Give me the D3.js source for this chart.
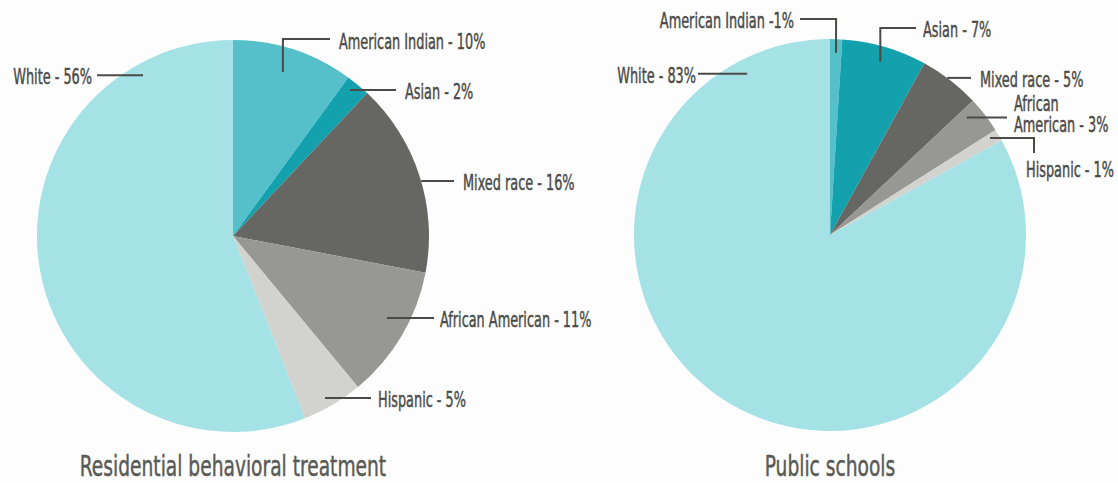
<!DOCTYPE html>
<html>
<head>
<meta charset="utf-8">
<script src="https://cdn.jsdelivr.net/npm/d3@7"></script>
<style>
  html, body { margin: 0; padding: 0; background: #fdfdfd; }
  svg { display: block; }
  text { font-family: "DejaVu Sans Condensed", "Liberation Sans Narrow", "Liberation Sans", sans-serif; fill: #4a4a46; stroke: #4a4a46; stroke-width: 0.45; }
</style>
</head>
<body>
<svg id="chart" width="1118" height="483"></svg>
<script>
// Racial makeup of students, in percent
const categories = ["American Indian", "Asian", "Mixed race", "African American", "Hispanic", "White"];
const residentialShares = [10, 2, 16, 11, 5, 56];
const schoolShares = [1, 7, 5, 3, 1, 83];
const panelTitles = ["Residential behavioral treatment", "Public schools"];

const sliceColors = ["#55c0c9", "#13a2ad", "#666762", "#979893", "#d2d3ce", "#a5e2e6"];
const color = d3.scaleOrdinal().domain(categories).range(sliceColors);

// Callout layout per category: where the leader starts inside the slice
// (t = fraction across the slice angle, rf = fraction of radius), how it runs,
// and where its text sits, relative to the pie centre.
const residentialCallouts = [
  { t: 0.47, rf: 0.875, route: "vh", turnY: -197, endX: 97, tx: 106, ty: -195, anchor: "start" },
  { t: 0.375, rf: 0.955, route: "h", endX: 163, tx: 172, ty: null, anchor: "start" },
  { t: 0.53, rf: 1.0, route: "h", endX: 221, tx: 230, ty: null, anchor: "start" },
  { t: 0.435, rf: 0.89, route: "h", endX: 201, tx: 207, ty: null, anchor: "start" },
  { t: 0.555, rf: 0.95, route: "h", endX: 138, tx: 145, ty: null, anchor: "start" },
  { t: 0.855, rf: 0.94, route: "h", endX: -136, tx: -141, ty: null, anchor: "end" }
];
const schoolCallouts = [
  { t: 0.53, rf: 0.93, route: "vh", turnY: -216, endX: -30, tx: -36, ty: -215, anchor: "end", sep: " -" },
  { t: 0.5, rf: 0.92, route: "vh", turnY: -207, endX: 86, tx: 93, ty: -206, anchor: "start" },
  { t: 0.44, rf: 1.0, route: "h", endX: 141, tx: 150, ty: null, anchor: "start" },
  { t: 0.23, rf: 0.92, route: "h", endX: 177, tx: 184, ty: -132, anchor: "start", wrap: true },
  { t: 0.33, rf: 0.955, route: "hv", endX: 204, endY: -82, tx: 196, ty: -66, anchor: "start" },
  { t: 0.909, rf: 0.925, route: "h", endX: -132, tx: -134, ty: null, anchor: "end" }
];

const svg = d3.select("#chart");
const radius = 196;
const labelSize = 22, labelSquash = 0.65, labelLead = 21;
const titleSize = 29, titleSquash = 0.715;

const pie = d3.pie().sort(null).value(d => d.value);
const arc = d3.arc().innerRadius(0).outerRadius(radius);

function drawPanel(values, callouts, title, cx, cy) {
  const data = categories.map((name, i) => ({ name, value: values[i], callout: callouts[i] }));
  const arcs = pie(data);
  const g = svg.append("g").attr("transform", `translate(${cx},${cy})`);

  g.selectAll("path.slice")
    .data(arcs)
    .join("path")
    .attr("class", "slice")
    .attr("d", arc)
    .attr("fill", d => color(d.data.name));

  const calloutG = g.selectAll("g.callout")
    .data(arcs)
    .join("g")
    .attr("class", "callout");

  calloutG.each(function (d) {
    const c = d.data.callout;
    const a = d.startAngle + c.t * (d.endAngle - d.startAngle);
    const r = c.rf * radius;
    const x0 = r * Math.sin(a), y0 = -r * Math.cos(a);
    const p = d3.path();
    p.moveTo(x0, y0);
    if (c.route === "vh") { p.lineTo(x0, c.turnY); p.lineTo(c.endX, c.turnY); }
    else if (c.route === "hv") { p.lineTo(c.endX, y0); p.lineTo(c.endX, c.endY); }
    else { p.lineTo(c.endX, y0); }

    const sel = d3.select(this);
    sel.append("path")
      .attr("d", p.toString())
      .attr("fill", "none")
      .attr("stroke", "#4a4a46")
      .attr("stroke-width", 2);

    const text = d.data.name + (c.sep || " - ") + d.data.value + "%";
    let lines = [text];
    if (c.wrap) {
      const k = text.indexOf(" ");
      lines = [text.slice(0, k), text.slice(k + 1)];
    }
    const ty = c.ty === null ? y0 + 1 : c.ty;
    const t = sel.append("text")
      .attr("transform", `translate(${c.tx},${ty}) scale(${labelSquash},1)`)
      .attr("text-anchor", c.anchor)
      .attr("font-size", labelSize);
    lines.forEach((ln, i) => {
      t.append("tspan")
        .attr("x", 0)
        .attr("y", i * labelLead)
        .attr("dy", "0.36em")
        .text(ln);
    });
  });

  svg.append("text")
    .attr("transform", `translate(${cx},476) scale(${titleSquash},1)`)
    .attr("text-anchor", "middle")
    .attr("font-size", titleSize)
    .style("fill", "#5a5a55")
    .style("stroke", "#5a5a55")
    .text(title);
}

drawPanel(residentialShares, residentialCallouts, panelTitles[0], 233, 236);
drawPanel(schoolShares, schoolCallouts, panelTitles[1], 830, 235);
</script>
</body>
</html>
